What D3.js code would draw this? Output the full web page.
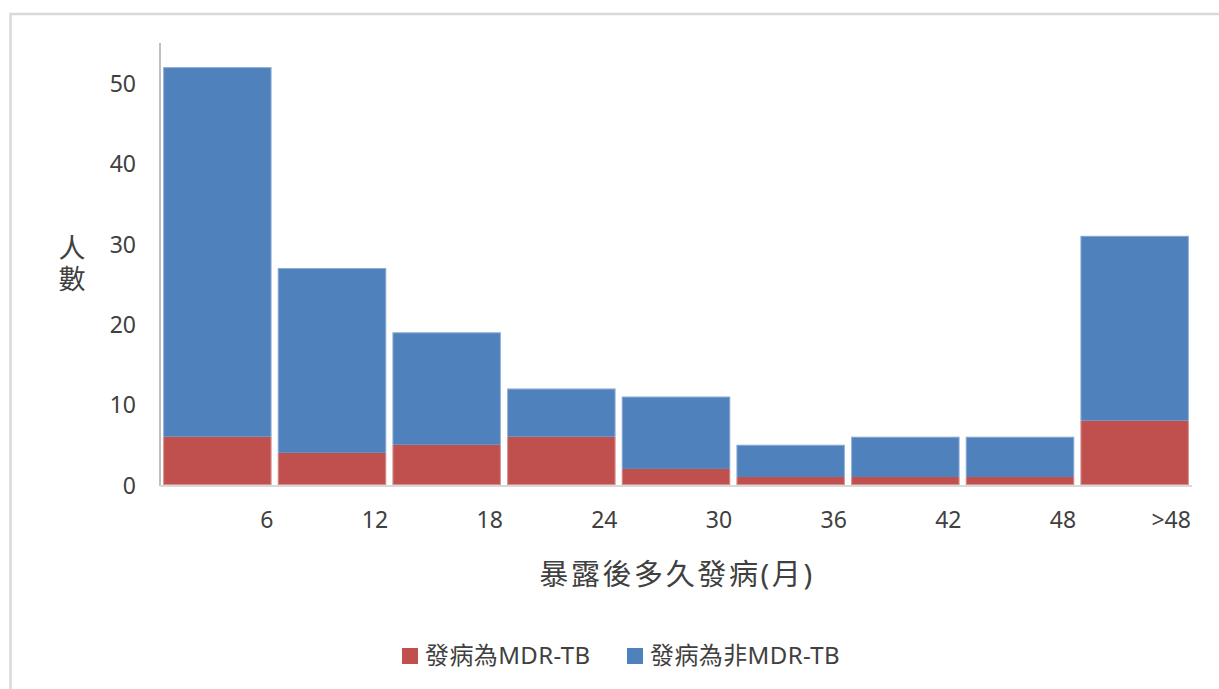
<!DOCTYPE html>
<html>
<head>
<meta charset="utf-8">
<script src="https://cdn.jsdelivr.net/npm/d3@7"></script>
<style>
  html, body { margin: 0; padding: 0; background: #fff; }
  svg { display: block; }
  text { font-family: "Noto Sans", "Noto Sans CJK TC", sans-serif; fill: #404040; }
</style>
</head>
<body>
<svg id="chart" width="1219" height="689"></svg>
<script>
// Months after exposure until onset
const categories = ["6", "12", "18", "24", "30", "36", "42", "48", ">48"];
// Cases that developed MDR-TB
const mdrValues = [6, 4, 5, 6, 2, 1, 1, 1, 8];
// Cases that developed non-MDR-TB
const nonMdrValues = [46, 23, 14, 6, 9, 4, 5, 5, 23];
const yTicks = [0, 10, 20, 30, 40, 50];
const seriesNames = ["發病為MDR-TB", "發病為非MDR-TB"];
const seriesColors = ["#C0504D", "#4F81BD"];

const svg = d3.select("#chart");

// outer frame
svg.append("rect")
  .attr("x", 10.5).attr("y", 14)
  .attr("width", 1230).attr("height", 700)
  .attr("fill", "#fff")
  .attr("stroke", "#d9d9d9").attr("stroke-width", 2.5);

const plot = { left: 160, right: 1192, top: 43, bottom: 485 };

const x = d3.scaleBand()
  .domain(categories)
  .range([plot.left, plot.right])
  .paddingInner(0.055)
  .paddingOuter(0.0275);

const y = d3.scaleLinear()
  .domain([0, 55])
  .range([plot.bottom, plot.top]);

const rows = categories.map((c, i) => ({ cat: c, mdr: mdrValues[i], non: nonMdrValues[i] }));
const stacked = d3.stack().keys(["mdr", "non"])(rows);

svg.append("g")
  .selectAll("g")
  .data(stacked)
  .join("g")
  .attr("fill", (d, i) => seriesColors[i])
  .selectAll("rect")
  .data(d => d)
  .join("rect")
  .attr("x", d => x(d.data.cat))
  .attr("width", x.bandwidth())
  .attr("y", d => y(d[1]))
  .attr("height", d => y(d[0]) - y(d[1]));

// light outline round every column
svg.append("g")
  .selectAll("rect")
  .data(rows)
  .join("rect")
  .attr("x", d => x(d.cat) + 0.5)
  .attr("width", x.bandwidth() - 1)
  .attr("y", d => y(d.mdr + d.non) + 0.5)
  .attr("height", d => y(0) - y(d.mdr + d.non) - 1)
  .attr("fill", "none")
  .attr("stroke", "#ffffff").attr("stroke-opacity", 0.35).attr("stroke-width", 1);

// axes lines
svg.append("line")
  .attr("x1", plot.left).attr("x2", plot.left)
  .attr("y1", plot.top).attr("y2", plot.bottom + 1)
  .attr("stroke", "#bfbfbf").attr("stroke-width", 2);
svg.append("line")
  .attr("x1", plot.left).attr("x2", plot.right)
  .attr("y1", plot.bottom + 1).attr("y2", plot.bottom + 1)
  .attr("stroke", "#d9d9d9").attr("stroke-width", 2);

// y tick labels
const yAxis = d3.axisLeft(y).tickValues(yTicks).tickSize(0).tickPadding(0);
const gy = svg.append("g")
  .attr("transform", `translate(${136},0)`)
  .call(yAxis);
gy.select(".domain").remove();
gy.selectAll("text")
  .attr("font-size", 23)
  .attr("font-family", "Noto Sans, sans-serif")
  .attr("fill", "#404040")
  .attr("dy", "0.36em");

// x tick labels, aligned to the right edge of each column
svg.append("g")
  .selectAll("text")
  .data(categories)
  .join("text")
  .attr("x", d => x(d) + x.bandwidth() + 2)
  .attr("y", 528)
  .attr("text-anchor", "end")
  .attr("font-size", 23)
  .text(d => d);

// axis titles
svg.append("text")
  .attr("x", (plot.left + plot.right) / 2 + 1)
  .attr("y", 585)
  .attr("text-anchor", "middle")
  .attr("font-size", 29)
  .attr("letter-spacing", 2.6)
  .attr("font-family", "Noto Sans CJK TC, sans-serif")
  .text("暴露後多久發病(月)");

// vertical y-axis title, stacked characters
svg.append("text")
  .attr("x", 71)
  .attr("y", 234)
  .attr("font-size", 27)
  .attr("letter-spacing", 4)
  .attr("font-family", "Noto Sans CJK TC, sans-serif")
  .style("writing-mode", "vertical-rl")
  .style("text-orientation", "upright")
  .text("人數");

// legend
const legendX = [402, 627];
const legend = svg.append("g")
  .selectAll("g")
  .data(seriesNames)
  .join("g")
  .attr("transform", (d, i) => `translate(${legendX[i]},648)`);
legend.append("rect")
  .attr("width", 16).attr("height", 16)
  .attr("fill", (d, i) => seriesColors[i]);
legend.append("text")
  .attr("x", 23).attr("y", 16)
  .attr("font-size", 24)
  .attr("letter-spacing", 0.4)
  .text(d => d);
</script>
</body>
</html>
